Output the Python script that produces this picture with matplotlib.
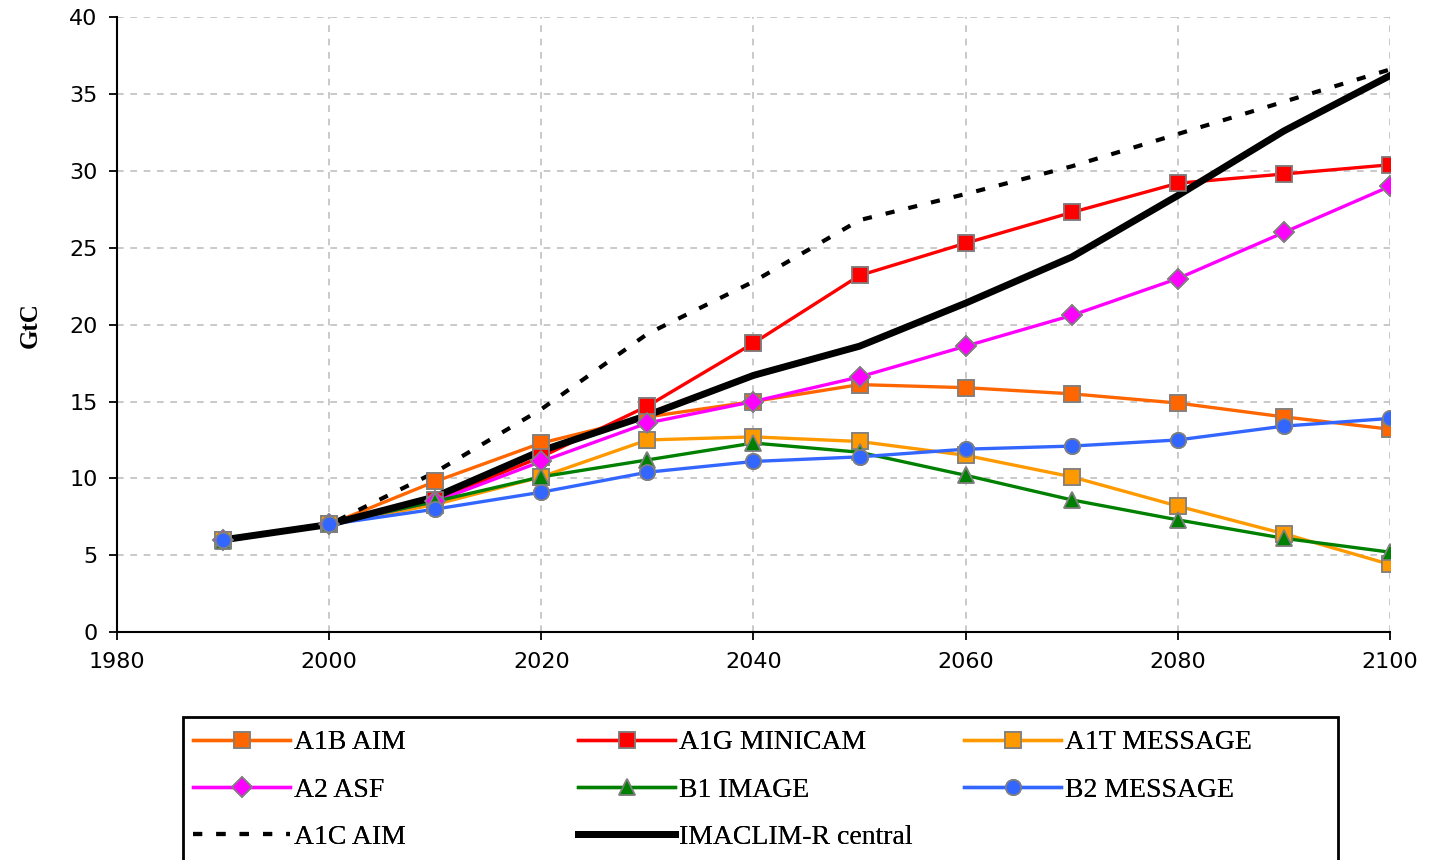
import matplotlib
matplotlib.use('Agg')
import matplotlib.pyplot as plt
from matplotlib.patches import Rectangle

years = [1990, 2000, 2010, 2020, 2030, 2040, 2050, 2060, 2070, 2080, 2090, 2100]

a1b_aim = [6.0, 7.0, 9.8, 12.3, 14.0, 15.0, 16.1, 15.9, 15.5, 14.9, 14.0, 13.2]
a1g_minicam = [6.0, 7.0, 8.6, 11.4, 14.7, 18.8, 23.2, 25.3, 27.3, 29.2, 29.8, 30.4]
a1t_message = [6.0, 7.0, 8.3, 10.1, 12.5, 12.7, 12.4, 11.5, 10.1, 8.2, 6.4, 4.4]
a2_asf = [6.0, 7.0, 8.5, 11.1, 13.6, 15.0, 16.6, 18.6, 20.6, 23.0, 26.0, 29.0]
b1_image = [5.9, 7.0, 8.5, 10.1, 11.2, 12.3, 11.7, 10.2, 8.6, 7.3, 6.1, 5.2]
b2_message = [6.0, 7.0, 8.0, 9.1, 10.4, 11.1, 11.4, 11.9, 12.1, 12.5, 13.4, 13.9]
a1c_aim = [6.0, 7.0, 10.4, 14.5, 19.4, 22.8, 26.8, 28.5, 30.3, 32.4, 34.5, 36.6]
imaclim = [6.0, 7.0, 8.8, 11.8, 14.1, 16.7, 18.6, 21.4, 24.4, 28.4, 32.6, 36.2]

# (label, data, colour, marker, size)
marked = [
    ('A1B AIM', a1b_aim, '#FF6600', 's', 11),
    ('A1G MINICAM', a1g_minicam, '#FF0000', 's', 11),
    ('A1T MESSAGE', a1t_message, '#FF9900', 's', 11),
    ('A2 ASF', a2_asf, '#FF00FF', 'D', 10),
    ('B1 IMAGE', b1_image, '#008000', '^', 12),
    ('B2 MESSAGE', b2_message, '#3366FF', 'o', 11),
]

fig = plt.figure(figsize=(14.37, 8.6), dpi=100)
ax = fig.add_axes([0.0814, 0.265, 0.8859, 0.715])

h = {}
for lab, vals, col, mk, ms in marked:
    h[lab], = ax.plot(years, vals, color=col, lw=2.4, marker=mk, markersize=ms,
                      markerfacecolor=col, markeredgecolor='#808080', markeredgewidth=1.2,
                      label=lab, zorder=2)
    # markers again on top of the black lines
    ax.plot(years, vals, ls='none', marker=mk, markersize=ms, markerfacecolor=col,
            markeredgecolor='#808080', markeredgewidth=1.2, zorder=4)

h['A1C AIM'], = ax.plot(years, a1c_aim, color='black', lw=3, ls=(0, (2.2, 3.4)),
                        label='A1C AIM', zorder=3)
h['IMACLIM-R central'], = ax.plot(years, imaclim, color='black', lw=5,
                                  label='IMACLIM-R central', zorder=3)

ax.set_xlim(1980, 2100)
ax.set_ylim(0, 40)
ax.set_xticks(range(1980, 2101, 20))
ax.set_yticks(range(0, 41, 5))
ax.grid(True, color='#C0C0C0', ls=(0, (4, 4)), lw=1.2)
ax.set_axisbelow(True)
for s in ['top', 'right']:
    ax.spines[s].set_visible(False)
for s in ['left', 'bottom']:
    ax.spines[s].set_linewidth(1.5)
ax.tick_params(axis='both', direction='out', length=6, width=1.3, labelsize=16, pad=8)
ax.set_ylabel('GtC', fontsize=18, fontweight='bold', family='Liberation Serif', labelpad=20)

# legend: three equal-width columns in one box, like the spreadsheet legend
columns = [['A1B AIM', 'A2 ASF', 'A1C AIM'],
           ['A1G MINICAM', 'B1 IMAGE', 'IMACLIM-R central'],
           ['A1T MESSAGE', 'B2 MESSAGE']]
col_x = [193, 578, 964]
for names, x in zip(columns, col_x):
    lg = fig.legend(handles=[h[n] for n in names], labels=names, loc='upper left',
                    bbox_to_anchor=(x / 1437, 1 - 730 / 860), borderaxespad=0, borderpad=0,
                    numpoints=1, handlelength=3.5, handletextpad=0.15, labelspacing=0.78,
                    frameon=False, prop={'family': 'Liberation Serif', 'size': 20})
    fig.add_artist(lg)

fig.add_artist(Rectangle((183 / 1437, -0.02), 1155 / 1437, 1 - 717 / 860 + 0.02,
                         transform=fig.transFigure, fill=False, edgecolor='black', lw=2))

fig.savefig('out.png', dpi=100)
